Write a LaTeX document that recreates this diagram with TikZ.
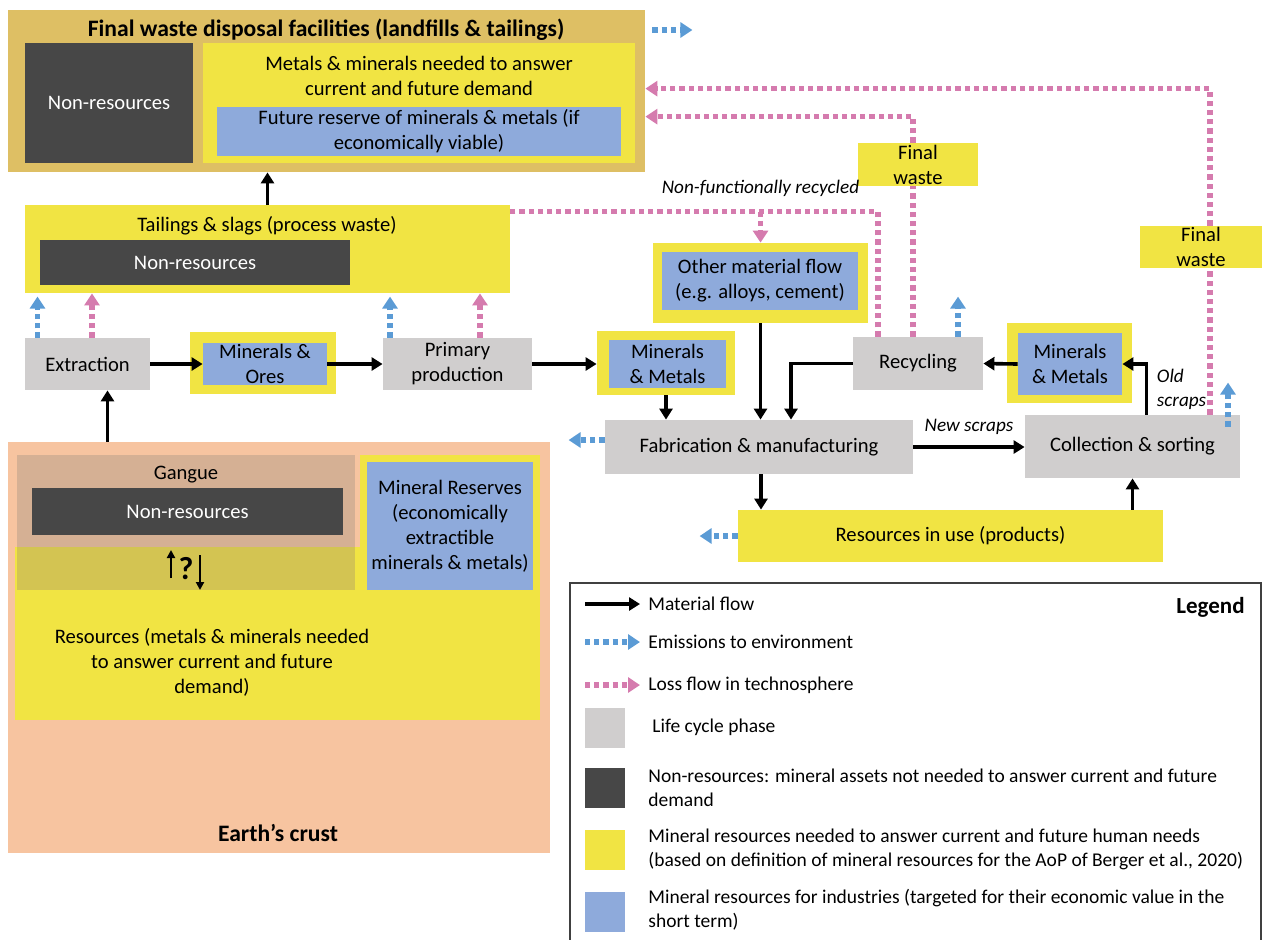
\documentclass[tikz,border=0pt]{standalone}
\usepackage{fontspec}
\setmainfont{Carlito}
\usetikzlibrary{arrows.meta,fit,positioning,calc}
\definecolor{wastetan}{HTML}{DEBF64}
\definecolor{resyellow}{HTML}{F1E443}
\definecolor{indblue}{HTML}{8EAADB}
\definecolor{nonresgrey}{HTML}{474747}
\definecolor{phasegrey}{HTML}{D0CECE}
\definecolor{crustpeach}{HTML}{F7C4A0}
\definecolor{ganguetan}{HTML}{D5B094}
\definecolor{gangueolive}{HTML}{D3C452}
\definecolor{losspink}{HTML}{D57BAE}
\definecolor{emitblue}{HTML}{5B9BD5}
\definecolor{legendline}{HTML}{404040}

\tikzset{
  box/.style={inner sep=0pt, align=center},
  txt/.style={box, font=\fontsize{10.3}{12.5}\selectfont},
  boldtxt/.style={box, font=\fontsize{11.8}{14}\selectfont\bfseries},
  ittxt/.style={font=\fontsize{9.6}{12}\selectfont\itshape},
  wastebox/.style={box, fill=wastetan},
  resbox/.style={box, fill=resyellow},
  indbox/.style={box, fill=indblue},
  nonres/.style={box, fill=nonresgrey},
  phase/.style={box, fill=phasegrey},
  intext/.style={label={[txt]center:{#1}}},
  inwhite/.style={label={[txt, text=white]center:{#1}}},
  matflow/.style={line width=1.8pt, -{Triangle[length=5.5pt,width=6.5pt]}},
  lossflow/.style={draw=losspink, line width=2.6pt, dash pattern=on 2.6pt off 2pt,
    -{Triangle[length=6pt,width=7.5pt,fill=losspink]}},
  emitflow/.style={draw=emitblue, line width=2.6pt, dash pattern=on 2.6pt off 2pt,
    -{Triangle[length=6pt,width=7.5pt,fill=emitblue]}},
  legendtext/.style={anchor=west, inner sep=0pt, align=left, font=\fontsize{9.75}{12}\selectfont},
}

\begin{document}
\begin{tikzpicture}[x=0.5pt,y=-0.5pt]
\useasboundingbox (0,0) rectangle (1262,939);

% final disposal
\node[wastebox, fit={(8,10) (645,172)}] (disposal) {};
\node[boldtxt] (disposaltitle) at (326,30) {Final waste disposal facilities (landfills \& tailings)};
\node[nonres, fit={(25,43) (193,163)}, inwhite={Non-resources}] (disposalnon) {};
\node[resbox, fit={(203,43) (635,163)}] (disposalres) {};
\node[txt] (disposalrestext) at (419,76) {Metals \& minerals needed to answer\\current and future demand};
\node[indbox, fit={(217,107) (621,156)}, intext={Future reserve of minerals \& metals (if\\economically viable)}] (futurereserve) {};

% process waste
\node[resbox, fit={(25,205) (510,293)}] (tailings) {};
\node[txt] (tailingstext) at (267,226) {Tailings \& slags (process waste)};
\node[nonres, fit={(40,240) (350,285)}, inwhite={Non-resources}] (tailingsnon) {};

% primary chain
\node[phase, fit={(25,338) (150,390)}, intext={Extraction}] (extraction) {};
\node[resbox, fit={(190,332) (336,394)}] (oresframe) {};
\node[indbox, fit={(203,343) (327,385)}, intext={Minerals \&\\Ores}] (ores) {};
\node[phase, fit={(383,338) (532,390)}, intext={Primary\\production}] (primary) {};
\node[resbox, fit={(597,331) (735,395)}] (metalsaframe) {};
\node[indbox, fit={(609,340) (726,388)}, intext={Minerals\\\& Metals}] (metalsa) {};
\node[resbox, fit={(653,243) (868,323)}] (otherframe) {};
\node[indbox, fit={(662,252) (858,310)}, intext={Other material flow\\(e.g. alloys, cement)}] (other) {};

% use and end of life
\node[phase, fit={(605,420) (913,474)}, intext={Fabrication \& manufacturing}] (fab) {};
\node[resbox, fit={(738,510) (1163,562)}, intext={Resources in use (products)}] (inuse) {};
\node[phase, fit={(1025,415) (1240,478)}, intext={Collection \& sorting}] (collection) {};
\node[resbox, fit={(1007,323) (1132,403)}] (metalsbframe) {};
\node[indbox, fit={(1018,333) (1122,395)}, intext={Minerals\\\& Metals}] (metalsb) {};
\node[phase, fit={(853,337) (983,390)}, intext={Recycling}] (recycling) {};
\node[resbox, fit={(858,143) (978,186)}, intext={Final\\waste}] (finalwastea) {};
\node[resbox, fit={(1140,226) (1262,268)}, intext={Final\\waste}] (finalwasteb) {};

% earth's crust
\node[box, fill=crustpeach, fit={(8,442) (550,853)}] (crust) {};
\node[resbox, fit={(15,547) (540,720)}] (crustres) {};
\node[resbox, fit={(360,455) (540,547)}] (reserveframe) {};
\node[box, fill=ganguetan, fit={(17,455) (355,547)}] (gangue) {};
\node[box, fill=gangueolive, fit={(17,547) (355,590)}] (overlap) {};
\node[txt] (ganguetext) at (186,475) {Gangue};
\node[nonres, fit={(32,488) (343,535)}, inwhite={Non-resources}] (ganguenon) {};
\node[indbox, fit={(367,462) (533,590)}, intext={Mineral Reserves\\(economically\\extractible\\minerals \& metals)}] (reserves) {};
\node[box, font=\fontsize{16}{16}\selectfont\bfseries] (question) at (186,569) {?};
\draw[line width=1pt, -{Triangle[length=4pt,width=4pt]}] ([xshift=-7.5pt,yshift=-4.5pt]question.center) -- ([xshift=-7.5pt,yshift=9.5pt]question.center);
\draw[line width=1pt, -{Triangle[length=4pt,width=4pt]}] ([xshift=7pt,yshift=7pt]question.center) -- ([xshift=7pt,yshift=-10.5pt]question.center);
\node[txt] (crustrestext) at (212,662) {Resources (metals \& minerals needed\\to answer current and future\\demand)};
\node[boldtxt] (crustlabel) at (278,833) {Earth’s crust};

% material flows
\draw[matflow] ([xshift=10pt]extraction.south |- crust.north) -- ([xshift=10pt]extraction.south);
\draw[matflow] (extraction.east) -- (ores.west);
\draw[matflow] (ores.east) -- (primary.west);
\draw[matflow] (primary.east) -- (metalsaframe.west |- primary.east);
\draw[matflow] (metalsaframe.south) -- (metalsaframe.south |- fab.north);
\draw[matflow] (otherframe.south) -- (otherframe.south |- fab.north);
\draw[matflow] (recycling.west) -| ([xshift=16pt]fab.north);
\draw[matflow] ([xshift=1pt]fab.south) -- ([xshift=1pt]fab.south |- inuse.north);
\draw[matflow] (fab.east) -- (collection.west |- fab.east) node[midway, above=2pt, ittxt] {New scraps};
\draw[matflow] (collection.south |- inuse.north) -- (collection.south);
\draw[matflow] ([xshift=7pt]collection.north) |- (metalsb.east) node[pos=0.25, right=1pt, align=left, ittxt] {Old\\scraps};
\draw[matflow] (metalsb.west) -- (recycling.east);
\draw[matflow] (tailings.north) -- (tailings.north |- disposal.south);

% loss flows
\coordinate (nfr) at ([yshift=-3.5pt]tailings.north east);
\draw[lossflow, -] ([xshift=-20pt]recycling.north) |- (nfr);
\draw[lossflow] (otherframe.north |- nfr) -- (otherframe.north) node[pos=0, above=3pt, ittxt] {Non-functionally recycled};
\draw[lossflow, -] ([xshift=-2.5pt]recycling.north) -- ([xshift=-2.5pt]finalwastea.south);
\draw[lossflow] ([xshift=-2.5pt]finalwastea.north) |- ([yshift=-5pt]disposal.east |- futurereserve.north);
\draw[lossflow, -] ([xshift=38.75pt]collection.north) -- ([xshift=38.75pt]collection.north |- finalwasteb.south);
\draw[lossflow] ([xshift=38.75pt]collection.north |- finalwasteb.north) |- ([yshift=9pt]disposal.east |- futurereserve.north);
\draw[lossflow] ([xshift=2.25pt]extraction.north) -- ([xshift=2.25pt]extraction.north |- tailings.south);
\draw[lossflow] ([xshift=11.25pt]primary.north) -- ([xshift=11.25pt]primary.north |- tailings.south);

% emissions
\draw[emitflow] ([xshift=-25pt]extraction.north) -- ++(0,-41);
\draw[emitflow] ([xshift=-33.75pt]primary.north) -- ++(0,-41);
\draw[emitflow] ([xshift=20pt]recycling.north) -- ++(0,-40);
\draw[emitflow] ([xshift=47.75pt,yshift=-6pt]collection.north) -- ++(0,-44);
\draw[emitflow] ([yshift=3.5pt]fab.west) -- ++(-36,0);
\draw[emitflow] (inuse.west) -- ++(-38,0);
\draw[emitflow] ([xshift=3.5pt]disposal.east |- disposaltitle) -- ++(40,0);

% legend
\draw[legendline, line width=0.6pt] (570,945) |- (1261,583) -- (1261,945);
\node[anchor=east, inner sep=0pt, font=\fontsize{11.5}{13}\selectfont\bfseries] (legendtitle) at (1245,607) {Legend};
\node[legendtext] (legmat) at (648,604) {Material flow};
\node[legendtext] (legemit) at (648,642) {Emissions to environment};
\node[legendtext] (legloss) at (648,685) {Loss flow in technosphere};
\node[legendtext] (legphase) at (652,727) {Life cycle phase};
\node[legendtext] (legnonres) at (648,788) {Non-resources: mineral assets not needed to answer current and future\\demand};
\node[legendtext] (legres) at (648,849) {Mineral resources needed to answer current and future human needs\\(based on definition of mineral resources for the AoP of Berger et al., 2020)};
\node[legendtext] (legind) at (648,910) {Mineral resources for industries (targeted for their economic value in the\\short term)};
\draw[matflow] ([xshift=-31.5pt]legmat.west) -- ([xshift=-4pt]legmat.west);
\draw[emitflow] ([xshift=-31.5pt]legemit.west) -- ([xshift=-4pt]legemit.west);
\draw[lossflow] ([xshift=-31.5pt]legloss.west) -- ([xshift=-4pt]legloss.west);
\foreach \y/\col in {728/phasegrey, 788/nonresgrey, 850/resyellow, 912/indblue}
  \fill[\col] (585,\y-20) rectangle (625,\y+20);
\end{tikzpicture}
\end{document}
